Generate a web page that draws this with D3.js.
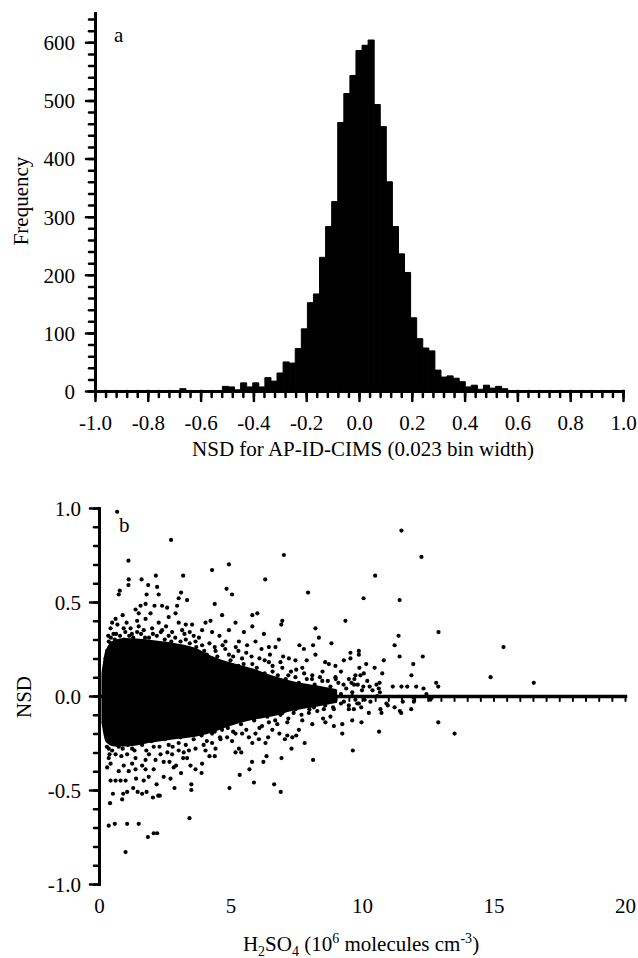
<!DOCTYPE html>
<html>
<head>
<meta charset="utf-8">
<script src="https://cdn.jsdelivr.net/npm/d3@7"></script>
<style>
  html, body { margin: 0; padding: 0; background: #fff; }
  svg text { font-family: 'Liberation Serif', 'Times New Roman', serif; font-size: 21px; fill: #000; }
</style>
</head>
<body>
<div id="chart"></div>
<script>
// ---- panel a: histogram of NSD (bin width 0.023) ----
const binCenters = [-0.667, -0.506, -0.483, -0.46, -0.437, -0.414, -0.391, -0.368, -0.345, -0.322,
  -0.299, -0.276, -0.253, -0.23, -0.207, -0.184, -0.161, -0.138, -0.115, -0.092,
  -0.069, -0.046, -0.023, 0, 0.023, 0.046, 0.069, 0.092, 0.115, 0.138,
  0.161, 0.184, 0.207, 0.23, 0.253, 0.276, 0.299, 0.322, 0.345, 0.368,
  0.391, 0.414, 0.437, 0.46, 0.483, 0.506, 0.529, 0.552];
const binCounts = [4, 8, 7, 2, 14, 7, 14, 7, 23, 17,
  31, 50, 48, 73, 107, 152, 167, 230, 283, 326,
  462, 512, 543, 586, 595, 604, 493, 455, 360, 283,
  236, 204, 126, 90, 74, 69, 36, 24, 26, 22,
  16, 7, 10, 3, 10, 5, 8, 4];
const binWidth = 0.023;
const nsdTicks = [-1.0, -0.8, -0.6, -0.4, -0.2, 0.0, 0.2, 0.4, 0.6, 0.8, 1.0];
const freqTicks = [0, 100, 200, 300, 400, 500, 600];

// ---- panel b: NSD vs H2SO4 ----
// dense core of the cloud (upper / lower edge of the solid black area)
const coreX =     [0.15, 0.3, 0.6, 1.0, 2.0, 3.0, 3.6, 4.2, 5.0, 5.8, 6.6, 7.4, 8.2, 9.0];
const coreUpper = [0.12, 0.24, 0.29, 0.30, 0.29, 0.27, 0.25, 0.21, 0.17, 0.14, 0.10, 0.07, 0.05, 0.03];
const coreLower = [-0.14, -0.24, -0.26, -0.26, -0.24, -0.22, -0.21, -0.19, -0.15, -0.12, -0.10, -0.07, -0.05, -0.03];

// individual points around the core
const pointsX = [
  0.69, 2.74, 1.12, 7.03, 4.30, 4.94, 3.20, 2.16, 1.13, 1.62, 1.87, 1.12, 6.32, 0.79, 0.75, 2.21, 1.81, 2.27, 3.12, 4.85,
  5.06, 7.95, 3.35, 3.03, 1.58, 1.77, 2.11, 2.40, 2.59, 2.97, 4.40, 1.39, 1.51, 1.96, 2.91, 4.68, 5.83, 6.02, 0.90, 1.77,
  2.65, 9.37, 6.97, 6.93, 4.24, 4.05, 5.19, 5.83, 8.23, 2.27, 3.03, 3.54, 0.50, 0.63, 4.94, 5.51, 6.27, 8.36, 8.84, 6.84,
  7.62, 8.14, 9.56, 9.88, 9.31, 8.99, 8.74, 8.23, 7.79, 7.47, 7.22, 6.71, 6.46, 6.18, 5.95, 5.32, 5.63, 4.81, 4.58, 4.30,
  3.92, 3.45, 3.16, 2.78, 2.40, 2.02, 1.51, 1.20, 0.94, 0.44, 0.37, 0.31, 0.31, 0.25, 3.92, 3.67, 4.43, 4.94, 5.44, 5.83,
  6.46, 6.97, 7.73, 8.11, 8.49, 8.99, 9.50, 9.75, 7.47, 6.71, 6.08,
  0.55, 0.80, 1.00, 1.30, 1.60, 1.90, 2.20, 2.50, 2.90, 3.30, 3.60, 0.45, 0.70, 1.05, 1.45, 1.70, 2.55, 3.30, 3.80, 0.35,
  1.25, 2.05, 2.75, 3.10, 0.60, 0.95,
  4.10, 4.60, 4.80, 5.10, 5.30, 5.60, 5.90, 6.10, 6.30, 6.60, 6.80, 7.10, 7.30, 7.60, 7.90, 8.20, 8.50, 8.80, 9.10, 9.40,
  9.70, 10.00, 5.00, 5.70, 6.40, 7.00, 7.70, 8.30, 4.40, 5.20, 6.50, 7.00, 7.90, 8.60, 9.20, 9.90, 8.00, 8.70, 9.20,
  11.50, 12.26, 10.50, 10.06, 11.43, 12.91, 11.39, 11.24, 11.43, 12.31, 11.95, 11.88, 15.38, 14.89, 16.53, 10.83, 10.16, 10.48, 10.77, 9.88,
  9.56, 10.07, 9.94, 9.71, 9.84, 10.05, 10.29, 10.55, 10.67, 10.64, 11.17, 11.50, 11.72, 12.06, 12.34, 12.82, 12.90, 12.45, 12.60, 9.63,
  9.63, 9.75, 9.82, 9.97, 9.69, 10.26, 10.32, 10.58, 10.68, 10.70, 10.74, 10.93, 10.98, 11.24, 11.44, 11.49, 11.55, 11.87, 11.97, 11.97,
  12.64, 9.63, 9.98, 10.65, 12.90, 13.52, 9.65,
  1.01, 1.86, 2.08, 2.21, 0.37, 0.60, 1.07, 1.51, 3.44, 0.42, 0.88, 0.53, 0.92, 1.07, 1.30, 1.47, 1.64, 1.81, 2.05, 2.25,
  2.31, 2.87, 3.51, 3.51, 4.96, 5.89, 6.66, 6.91, 5.35, 5.72, 5.82, 6.25, 6.37, 6.94, 7.32, 7.82, 8.14, 9.25, 8.93, 8.61,
  8.52, 9.25, 9.50, 8.93, 8.80, 8.55, 8.36, 8.17, 7.98, 7.60, 7.35, 7.50, 7.16, 7.07, 6.86, 6.59, 6.43, 6.78, 7.16, 6.33,
  6.08, 5.83, 5.70, 5.95, 5.44, 5.32, 5.19, 5.41, 5.06, 4.62, 4.30, 4.20, 4.40, 4.05, 3.92, 3.90, 3.67, 3.48, 3.35, 3.42,
  3.03, 2.84, 2.93, 3.12, 2.68, 2.46, 2.72, 2.19, 1.89, 1.70, 1.41, 1.01, 0.82, 0.63, 0.44, 0.75, 1.13, 1.39, 1.77, 2.08,
  1.64, 1.26, 0.94, 0.44, 0.31, 0.37, 0.63, 1.07, 1.39, 1.77, 2.15, 2.46, 2.34, 2.78, 3.22, 3.67, 0.37, 0.75, 1.26, 1.64,
  2.08, 2.65, 3.03, 3.98, 4.43, 4.87, 5.19, 4.30, 4.68, 6.20, 6.46, 7.73, 8.11, 8.49, 8.99, 9.31, 9.88, 7.47, 6.97, 7.85,
  // points along the edges of the dense core
  3.70, 4.00, 4.20, 4.50, 4.70, 5.00, 5.30, 5.50, 5.80, 6.00, 6.30, 6.60, 6.90, 7.20, 7.50, 7.80, 8.10, 8.40, 8.70, 9.00,
  9.30, 9.60, 10.20, 10.40,
  3.60, 3.90, 4.10, 4.40, 4.60, 4.90, 5.10, 5.40, 5.60, 5.90, 6.10, 6.40, 6.70, 6.90, 7.20, 7.40, 7.70, 8.00, 8.30, 8.60,
  8.90, 9.20, 9.50, 10.10,
  0.30, 0.50, 0.70, 0.90, 1.10, 1.35, 1.55, 1.80, 2.00, 2.30, 2.50, 2.80, 3.10, 3.30, 0.40, 0.85, 1.90, 2.60, 3.20,
  0.25, 0.45, 0.65, 1.15, 1.45, 1.75, 2.35, 2.65, 3.25, 3.45
];
const pointsY = [
  0.98, 0.83, 0.72, 0.75, 0.67, 0.70, 0.64, 0.64, 0.62, 0.62, 0.59, 0.59, 0.62, 0.56, 0.54, 0.58, 0.54, 0.54, 0.55, 0.57,
  0.54, 0.55, 0.51, 0.52, 0.48, 0.49, 0.48, 0.48, 0.47, 0.48, 0.49, 0.46, 0.44, 0.44, 0.44, 0.43, 0.43, 0.44, 0.43, 0.41,
  0.42, 0.40, 0.40, 0.38, 0.40, 0.39, 0.39, 0.37, 0.36, 0.39, 0.39, 0.38, 0.39, 0.41, 0.35, 0.34, 0.33, 0.31, 0.28, 0.30,
  0.27, 0.27, 0.23, 0.24, 0.19, 0.16, 0.17, 0.22, 0.25, 0.19, 0.20, 0.26, 0.26, 0.25, 0.29, 0.29, 0.27, 0.29, 0.32, 0.34,
  0.35, 0.34, 0.35, 0.34, 0.35, 0.36, 0.37, 0.36, 0.36, 0.36, 0.29, 0.24, 0.15, 0.13, 0.27, 0.29, 0.24, 0.22, 0.20, 0.17,
  0.18, 0.15, 0.15, 0.11, 0.08, 0.10, 0.09, 0.11, 0.10, 0.08, 0.09,
  0.33, 0.32, 0.34, 0.31, 0.33, 0.31, 0.32, 0.30, 0.31, 0.30, 0.32, 0.31, 0.38, 0.39, 0.40, 0.35, 0.37, 0.38, 0.31, 0.32,
  0.33, 0.33, 0.29, 0.29, 0.30, 0.30,
  0.22, 0.18, 0.25, 0.21, 0.16, 0.23, 0.13, 0.20, 0.12, 0.16, 0.11, 0.09, 0.13, 0.07, 0.09, 0.06, 0.13, 0.05, 0.07, 0.04,
  0.06, 0.03, 0.12, 0.09, 0.06, 0.05, 0.04, 0.02, 0.26, 0.26, 0.22, 0.21, 0.19, 0.18, 0.13, 0.15, 0.03, 0.02, 0.01,
  0.88, 0.74, 0.64, 0.52, 0.51, 0.34, 0.32, 0.27, 0.21, 0.21, 0.17, 0.11, 0.26, 0.10, 0.07, 0.19, 0.17, 0.15, 0.12, 0.22,
  0.20, 0.12, 0.11, 0.09, 0.06, 0.05, 0.05, 0.06, 0.07, 0.04, 0.05, 0.05, 0.05, 0.05, 0.04, 0.07, 0.05, 0.01, -0.02, 0.02,
  0.00, -0.02, -0.04, -0.06, -0.07, -0.09, -0.03, 0.00, 0.02, -0.07, -0.09, -0.04, -0.05, -0.06, -0.08, -0.09, -0.03, -0.07, -0.03, -0.01,
  -0.01, -0.13, -0.14, -0.19, -0.14, -0.20, -0.29,
  -0.83, -0.75, -0.73, -0.73, -0.69, -0.68, -0.68, -0.68, -0.65, -0.57, -0.55, -0.52, -0.52, -0.51, -0.49, -0.51, -0.52, -0.51, -0.54, -0.53,
  -0.53, -0.49, -0.50, -0.47, -0.49, -0.46, -0.47, -0.51, -0.42, -0.39, -0.35, -0.35, -0.32, -0.33, -0.28, -0.25, -0.34, -0.20, -0.16, -0.14,
  -0.12, -0.15, -0.07, -0.07, -0.11, -0.07, -0.04, -0.06, -0.09, -0.18, -0.22, -0.21, -0.21, -0.23, -0.20, -0.18, -0.22, -0.15, -0.14, -0.25,
  -0.23, -0.25, -0.22, -0.20, -0.20, -0.28, -0.30, -0.30, -0.24, -0.23, -0.25, -0.32, -0.32, -0.29, -0.36, -0.41, -0.39, -0.37, -0.33, -0.29,
  -0.29, -0.38, -0.37, -0.41, -0.35, -0.43, -0.44, -0.47, -0.43, -0.45, -0.44, -0.45, -0.45, -0.45, -0.45, -0.40, -0.40, -0.39, -0.39, -0.39,
  -0.37, -0.36, -0.37, -0.36, -0.38, -0.33, -0.31, -0.31, -0.33, -0.34, -0.34, -0.35, -0.31, -0.31, -0.30, -0.28, -0.28, -0.27, -0.28, -0.26,
  -0.27, -0.26, -0.25, -0.26, -0.28, -0.22, -0.20, -0.20, -0.18, -0.16, -0.14, -0.13, -0.15, -0.02, -0.02, -0.03, -0.04, -0.07, -0.09, -0.05,
  0.26, 0.24, 0.28, 0.21, 0.27, 0.19, 0.24, 0.17, 0.21, 0.15, 0.19, 0.13, 0.18, 0.11, 0.14, 0.12, 0.09, 0.10, 0.08, 0.09,
  0.06, 0.07, 0.08, 0.03,
  -0.23, -0.21, -0.24, -0.19, -0.22, -0.17, -0.19, -0.15, -0.18, -0.13, -0.17, -0.11, -0.13, -0.10, -0.12, -0.09, -0.10, -0.07, -0.08, -0.05,
  -0.06, -0.04, -0.05, -0.02,
  -0.27, -0.29, -0.26, -0.28, -0.26, -0.29, -0.25, -0.29, -0.24, -0.27, -0.23, -0.27, -0.22, -0.26, -0.31, -0.32, -0.31, -0.30, -0.33,
  0.20, 0.28, 0.33, 0.32, 0.34, 0.31, 0.34, 0.32, 0.33, 0.28
];
const h2so4Ticks = [0, 5, 10, 15, 20];
const nsdTicksB = [-1.0, -0.5, 0.0, 0.5, 1.0];

const W = 638, H = 958;
const svg = d3.select('#chart').append('svg')
  .attr('width', W)
  .attr('height', H);

function styleAxis(g, domainWidth) {
  g.select('.domain').attr('stroke-width', domainWidth).attr('stroke-linecap', 'square');
  g.selectAll('.tick line').attr('stroke-width', 2.5).attr('stroke-linecap', 'round');
}

// ================= panel a =================
const xA = d3.scaleLinear().domain([-1, 1]).range([95, 623]);
const yA = d3.scaleLinear().domain([0, 650]).range([391, 13.3]);

svg.append('g')
  .selectAll('rect')
  .data(binCenters.map((c, i) => ({ c: c, n: binCounts[i] })))
  .enter().append('rect')
  .attr('x', d => xA(d.c - binWidth / 2))
  .attr('width', d => xA(d.c + binWidth / 2) - xA(d.c - binWidth / 2))
  .attr('y', d => yA(d.n))
  .attr('height', d => yA(0) - yA(d.n))
  .attr('fill', '#000')
  .attr('stroke', '#000')
  .attr('stroke-width', 1)
  .attr('stroke-linejoin', 'round');

// minor ticks
svg.append('g')
  .attr('transform', `translate(${xA(-1)},0)`)
  .call(d3.axisLeft(yA).tickValues(d3.range(0, 651, 20)).tickSize(6).tickSizeOuter(0).tickFormat(''))
  .call(g => { styleAxis(g, 3); g.selectAll('text').remove(); });

svg.append('g')
  .attr('transform', `translate(0,${yA(0)})`)
  .call(d3.axisBottom(xA).tickValues(d3.range(-1, 1.001, 0.04)).tickSize(6).tickSizeOuter(0).tickFormat(''))
  .call(g => { styleAxis(g, 3); g.selectAll('text').remove(); });

// major ticks + labels
const yAxisA = svg.append('g')
  .attr('transform', `translate(${xA(-1)},0)`)
  .call(d3.axisLeft(yA).tickValues(freqTicks).tickSize(9).tickSizeOuter(0).tickFormat(d => String(d)));
styleAxis(yAxisA, 3);
yAxisA.selectAll('text').attr('x', -20).attr('dy', '0.35em').style('font-size', '21px');

const xAxisA = svg.append('g')
  .attr('transform', `translate(0,${yA(0)})`)
  .call(d3.axisBottom(xA).tickValues(nsdTicks).tickSize(10).tickSizeOuter(0).tickFormat(d => d.toFixed(1)));
styleAxis(xAxisA, 3);
xAxisA.selectAll('text').attr('y', 39).attr('dy', 0).style('font-size', '21px');

svg.append('text')
  .attr('x', 363).attr('y', 456)
  .attr('text-anchor', 'middle')
  .text('NSD for AP-ID-CIMS (0.023 bin width)');

svg.append('text')
  .attr('transform', 'translate(28,201) rotate(-90)')
  .attr('text-anchor', 'middle')
  .text('Frequency');

svg.append('text').attr('x', 114).attr('y', 42).text('a');

// ================= panel b =================
const xB = d3.scaleLinear().domain([0, 20]).range([99, 625]);
const yB = d3.scaleLinear().domain([-1, 1]).range([884, 508]);

const core = coreX.map((x, i) => ({ x: x, hi: coreUpper[i], lo: coreLower[i] }));
svg.append('path')
  .datum(core)
  .attr('fill', '#000')
  .attr('stroke', '#000')
  .attr('stroke-width', 3)
  .attr('stroke-linejoin', 'round')
  .attr('d', d3.area().x(d => xB(d.x)).y0(d => yB(d.lo)).y1(d => yB(d.hi)).curve(d3.curveMonotoneX));

svg.append('g')
  .selectAll('circle')
  .data(pointsX.map((x, i) => ({ x: x, y: pointsY[i] })))
  .enter().append('circle')
  .attr('cx', d => xB(d.x))
  .attr('cy', d => yB(d.y))
  .attr('r', 2.1)
  .attr('fill', '#000');

// y axis minor
svg.append('g')
  .attr('transform', `translate(${xB(0)},0)`)
  .call(d3.axisLeft(yB).tickValues(d3.range(-1, 1.001, 0.1)).tickSize(5).tickSizeOuter(0).tickFormat(''))
  .call(g => { styleAxis(g, 3); g.selectAll('text').remove(); });

// x axis drawn through NSD = 0
svg.append('g')
  .attr('transform', `translate(0,${yB(0)})`)
  .call(d3.axisBottom(xB).tickValues(d3.range(0, 20.001, 0.5)).tickSize(5).tickSizeOuter(0).tickFormat(''))
  .call(g => { styleAxis(g, 3.5); g.selectAll('.tick line').attr('stroke-width', 2); g.selectAll('text').remove(); });

const yAxisB = svg.append('g')
  .attr('transform', `translate(${xB(0)},0)`)
  .call(d3.axisLeft(yB).tickValues(nsdTicksB).tickSize(9).tickSizeOuter(0).tickFormat(d => d.toFixed(1)));
styleAxis(yAxisB, 3);
yAxisB.selectAll('text').attr('x', -18).attr('dy', '0.35em').style('font-size', '21px');

// x labels sit at the bottom of the panel
const xLabB = svg.append('g')
  .attr('transform', `translate(0,${yB(-1)})`)
  .call(d3.axisBottom(xB).tickValues(h2so4Ticks).tickSize(0).tickFormat(d => String(d)));
xLabB.select('.domain').remove();
xLabB.selectAll('text').attr('y', 29).attr('dy', 0).style('font-size', '21px');

const xTitle = svg.append('text')
  .attr('x', 361).attr('y', 951)
  .attr('text-anchor', 'middle');
xTitle.append('tspan').text('H');
xTitle.append('tspan').attr('dy', 5).style('font-size', '14px').text('2');
xTitle.append('tspan').attr('dy', -5).text('SO');
xTitle.append('tspan').attr('dy', 5).style('font-size', '14px').text('4');
xTitle.append('tspan').attr('dy', -5).text(' (10');
xTitle.append('tspan').attr('dy', -8).style('font-size', '14px').text('6');
xTitle.append('tspan').attr('dy', 8).text(' molecules cm');
xTitle.append('tspan').attr('dy', -8).style('font-size', '14px').text('-3');
xTitle.append('tspan').attr('dy', 8).text(')');

svg.append('text')
  .attr('transform', 'translate(31,697) rotate(-90)')
  .attr('text-anchor', 'middle')
  .text('NSD');

svg.append('text').attr('x', 119).attr('y', 532).text('b');
</script>
</body>
</html>
